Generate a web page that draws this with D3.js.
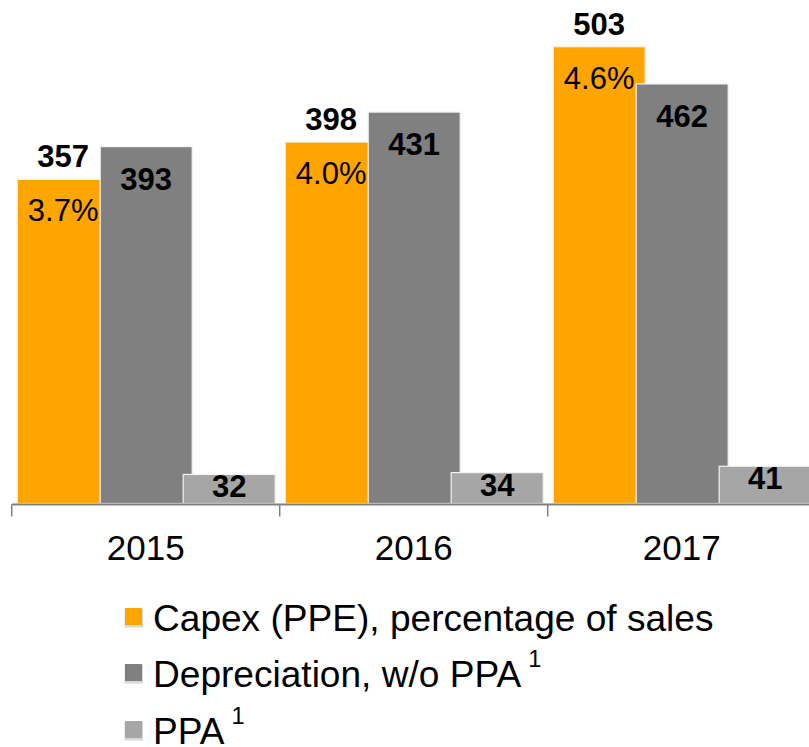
<!DOCTYPE html>
<html lang="en">
<meta charset="utf-8">
<title>Capex and depreciation</title>
<style>
  body { margin: 0; background: #fff; }
  text { font-family: Arial, "Liberation Sans", sans-serif; fill: #000; }
</style>
<body>
<script src="https://cdn.jsdelivr.net/npm/d3@7"></script>
<script>
  // chart values
  var years = ["2015", "2016", "2017"];
  var capex = [357, 398, 503];
  var capexPct = ["3.7%", "4.0%", "4.6%"];
  var depreciation = [393, 431, 462];
  var ppa = [32, 34, 41];
  var seriesNames = ["Capex (PPE), percentage of sales", "Depreciation, w/o PPA", "PPA"];
  var seriesColors = ["#FFA500", "#808080", "#A6A6A6"];

  var width = 809, height = 747;
  var baseline = 503.5;

  var svg = d3.select("body").append("svg")
    .attr("width", width)
    .attr("height", height);

  // year bands and bar slots inside each band
  var x = d3.scaleBand().domain(years).range([11.7, 11.7 + 268 * 3]);
  var slot = d3.scaleBand().domain([0, 1, 2]).range([5.5, 5.5 + 83 * 3]);
  var barW = 92;

  var y = d3.scaleLinear().domain([0, 503]).range([baseline, 46.7]);

  var series = [capex, depreciation, ppa];

  // bars, drawn series by series so later ones overlap earlier ones
  series.forEach(function(vals, s) {
    svg.append("g").selectAll("rect")
      .data(vals)
      .enter().append("rect")
      .attr("x", function(d, i) { return x(years[i]) + slot(s); })
      .attr("y", function(d) { return y(d); })
      .attr("width", barW)
      .attr("height", function(d) { return baseline - y(d); })
      .attr("fill", seriesColors[s])
      .attr("stroke", "#f2f2f2")
      .attr("stroke-width", 1.2);
  });

  function cx(i, s) { return x(years[i]) + slot(s) + barW / 2; }

  // capex value above the bar
  svg.append("g").selectAll("text")
    .data(capex)
    .enter().append("text")
    .attr("x", function(d, i) { return cx(i, 0); })
    .attr("y", function(d) { return y(d) - 12; })
    .attr("text-anchor", "middle")
    .attr("font-size", 31)
    .attr("font-weight", "bold")
    .text(function(d) { return d; });

  // capex percentage inside the bar
  svg.append("g").selectAll("text")
    .data(capex)
    .enter().append("text")
    .attr("x", function(d, i) { return cx(i, 0); })
    .attr("y", function(d) { return y(d) + 42; })
    .attr("text-anchor", "middle")
    .attr("font-size", 31)
    .text(function(d, i) { return capexPct[i]; });

  // depreciation labels
  svg.append("g").selectAll("text")
    .data(depreciation)
    .enter().append("text")
    .attr("x", function(d, i) { return cx(i, 1); })
    .attr("y", function(d) { return y(d) + 43; })
    .attr("text-anchor", "middle")
    .attr("font-size", 31)
    .attr("font-weight", "bold")
    .text(function(d) { return d; });

  // ppa labels
  svg.append("g").selectAll("text")
    .data(ppa)
    .enter().append("text")
    .attr("x", function(d, i) { return cx(i, 2); })
    .attr("y", function(d) { return y(d) + 23; })
    .attr("text-anchor", "middle")
    .attr("font-size", 31)
    .attr("font-weight", "bold")
    .text(function(d) { return d; });

  // x axis: line, boundary ticks and year labels
  var axis = svg.append("g").attr("transform", "translate(0," + (baseline + 1) + ")");
  axis.call(d3.axisBottom(x).tickSize(0).tickPadding(31));
  axis.select(".domain").remove();
  axis.selectAll(".tick text")
    .attr("font-size", 35)
    .attr("font-family", null)
    .attr("fill", "#000");

  var bounds = years.map(function(d) { return x(d); }).concat([x.range()[1]]);
  axis.append("line")
    .attr("x1", x.range()[0]).attr("x2", x.range()[1])
    .attr("stroke", "#808080").attr("stroke-width", 2);
  axis.selectAll(".bound")
    .data(bounds)
    .enter().append("line")
    .attr("class", "bound")
    .attr("x1", function(d) { return d; }).attr("x2", function(d) { return d; })
    .attr("y1", 0).attr("y2", 12)
    .attr("stroke", "#808080").attr("stroke-width", 1.5);

  // legend
  var legend = svg.append("g").attr("transform", "translate(124,0)");
  var rowY = [631, 687, 744];
  seriesNames.forEach(function(name, s) {
    var row = legend.append("g").attr("transform", "translate(0," + rowY[s] + ")");
    row.append("rect")
      .attr("x", 0.5).attr("y", -22)
      .attr("width", 18.5).attr("height", 18.5)
      .attr("fill", "#d9d9d9");
    row.append("rect")
      .attr("x", 1).attr("y", -23)
      .attr("width", 17).attr("height", 17)
      .attr("fill", seriesColors[s]);
    var t = row.append("text")
      .attr("transform", "translate(29,0) scale(1.03,1)")
      .attr("font-size", 36)
      .text(name);
    if (s > 0) {
      t.append("tspan")
        .attr("dx", 7)
        .attr("dy", -20)
        .attr("font-size", 23)
        .text("1");
    }
  });
</script>
</body>
</html>
